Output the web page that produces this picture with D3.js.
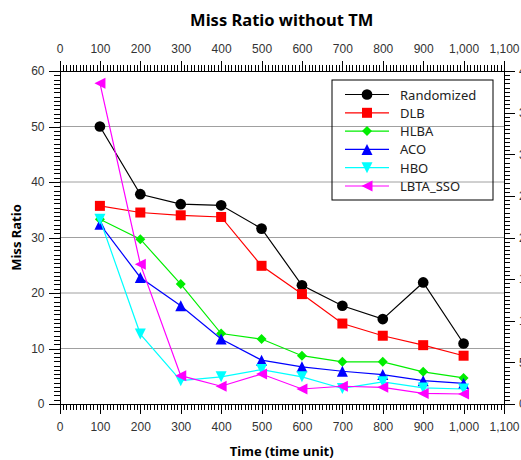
<!DOCTYPE html>
<html>
	<head>
		<title>Miss Ratio without TM</title>
		<script src="https://d3js.org/d3.v7.min.js"></script>

		<style>
			body {
			  margin: 0;
			  font-family: "Noto Sans", "Open Sans", sans-serif;
			  background: #fff;
			}
			.tick text {
				font-size: 12px;
				fill: #333;
			}
			.domain, .tick line {
				stroke: #000;
			}
		</style>
	</head>

	<body>

		<svg id="chart" width="521" height="460"></svg>

        <script type="text/javascript">
			var times = [100, 200, 300, 400, 500, 600, 700, 800, 900, 1000];
			var seriesNames = ['Randomized', 'DLB', 'HLBA', 'ACO', 'HBO', 'LBTA_SSO'];
			var randomized = [50.0, 37.8, 36.0, 35.8, 31.6, 21.4, 17.7, 15.3, 21.9, 10.9];
			var dlb = [35.7, 34.5, 34.0, 33.7, 24.9, 19.8, 14.5, 12.3, 10.6, 8.7];
			var hlba = [33.3, 29.7, 21.6, 12.7, 11.7, 8.7, 7.6, 7.6, 5.8, 4.7];
			var aco = [32.4, 22.8, 17.7, 11.7, 7.9, 6.7, 5.9, 5.3, 4.2, 3.7];
			var hbo = [33.3, 12.6, 4.2, 4.9, 6.2, 4.9, 2.8, 4.0, 2.9, 2.7];
			var lbta = [57.8, 25.2, 5.1, 3.2, 5.4, 2.7, 3.2, 3.0, 1.9, 1.8];
			var xTicks = [0, 100, 200, 300, 400, 500, 600, 700, 800, 900, 1000, 1100];
			var yTicks = [0, 10, 20, 30, 40, 50, 60];
			var rightTicks = [0, 5, 10, 15, 20, 25, 30, 35, 40];

			var colors = ['#000000', '#ff0000', '#00ee00', '#0000ff', '#00ffff', '#ff00ff'];
			var symbols = ['circle', 'square', 'diamond', 'up', 'down', 'left'];
			var allValues = [randomized, dlb, hlba, aco, hbo, lbta];

			var series = seriesNames.map(function(name, i) {
				return {
					name: name,
					color: colors[i],
					symbol: symbols[i],
					points: times.map(function(t, j) { return {t: t, v: allValues[i][j]}; })
				};
			});

			var plotLeft = 59.5, plotRight = 504, plotTop = 71, plotBottom = 404;

			var x = d3.scaleLinear().domain([0, 1100]).range([plotLeft, plotRight]);
			var y = d3.scaleLinear().domain([0, 60]).range([plotBottom, plotTop]);
			var yRight = d3.scaleLinear().domain([0, 40]).range([plotBottom, plotTop]);

			var svg = d3.select('#chart');

			// gridlines
			svg.append('g')
				.selectAll('line')
				.data(yTicks.slice(1, -1))
				.enter().append('line')
				.attr('x1', plotLeft)
				.attr('x2', plotRight)
				.attr('y1', function(d) { return y(d); })
				.attr('y2', function(d) { return y(d); })
				.attr('stroke', '#a0a0a0')
				.attr('stroke-width', 1);

			function range(a, b, step) {
				return d3.range(Math.round((b - a) / step) + 1).map(function(i) { return a + i * step; });
			}

			// minor ticks
			function minorAxis(axis, scale, values) {
				return axis(scale).tickValues(values).tickSize(6).tickFormat('');
			}
			svg.append('g').attr('transform', 'translate(0,' + plotBottom + ')')
				.call(minorAxis(d3.axisBottom, x, range(0, 1100, 100 / 12)));
			svg.append('g').attr('transform', 'translate(0,' + plotTop + ')')
				.call(minorAxis(d3.axisTop, x, range(0, 1100, 100 / 12)));
			svg.append('g').attr('transform', 'translate(' + plotLeft + ',0)')
				.call(minorAxis(d3.axisLeft, y, range(0, 60, 10 / 13)));
			svg.append('g').attr('transform', 'translate(' + plotRight + ',0)')
				.call(minorAxis(d3.axisRight, yRight, range(0, 40, 0.5)));

			// major axes
			svg.append('g').attr('transform', 'translate(0,' + plotBottom + ')')
				.call(d3.axisBottom(x).tickValues(xTicks).tickSize(10).tickPadding(8).tickFormat(d3.format(',')));
			svg.append('g').attr('transform', 'translate(0,' + plotTop + ')')
				.call(d3.axisTop(x).tickValues(xTicks).tickSize(10).tickPadding(8).tickFormat(d3.format(',')));
			svg.append('g').attr('transform', 'translate(' + plotLeft + ',0)')
				.call(d3.axisLeft(y).tickValues(yTicks).tickSize(11).tickPadding(4));
			svg.append('g').attr('transform', 'translate(' + plotRight + ',0)')
				.call(d3.axisRight(yRight).tickValues(rightTicks).tickSize(11).tickPadding(4));

			svg.selectAll('.tick line').attr('shape-rendering', 'crispEdges');
			svg.selectAll('.domain').attr('shape-rendering', 'crispEdges');

			// titles
			svg.append('text')
				.attr('x', (plotLeft + plotRight) / 2)
				.attr('y', 26)
				.attr('text-anchor', 'middle')
				.style('font-size', '16.5px')
				.style('font-weight', 'bold')
				.text('Miss Ratio without TM');

			svg.append('text')
				.attr('x', (plotLeft + plotRight) / 2)
				.attr('y', 456)
				.attr('text-anchor', 'middle')
				.style('font-size', '13px')
				.style('font-weight', 'bold')
				.text('Time (time unit)');

			svg.append('text')
				.attr('transform', 'translate(21,' + ((plotTop + plotBottom) / 2) + ') rotate(-90)')
				.attr('text-anchor', 'middle')
				.style('font-size', '13px')
				.style('font-weight', 'bold')
				.text('Miss Ratio');

			function markerPath(symbol, s) {
				if (symbol === 'circle') return d3.symbol(d3.symbolCircle, 90)();
				if (symbol === 'square') return 'M' + (-s) + ',' + (-s) + 'H' + s + 'V' + s + 'H' + (-s) + 'Z';
				if (symbol === 'diamond') return 'M0,' + (-s) + 'L' + s + ',0L0,' + s + 'L' + (-s) + ',0Z';
				if (symbol === 'up') return 'M0,' + (-s) + 'L' + s + ',' + s + 'L' + (-s) + ',' + s + 'Z';
				if (symbol === 'down') return 'M0,' + s + 'L' + s + ',' + (-s) + 'L' + (-s) + ',' + (-s) + 'Z';
				return 'M' + (-s) + ',0L' + s + ',' + (-s) + 'L' + s + ',' + s + 'Z';
			}
			var markerSize = {circle: 5, square: 5, diamond: 5, up: 5.5, down: 5.5, left: 5.5};

			var line = d3.line()
				.x(function(d) { return x(d.t); })
				.y(function(d) { return y(d.v); });

			var groups = svg.selectAll('g.series')
				.data(series)
				.enter().append('g')
				.attr('class', 'series');

			groups.append('path')
				.attr('d', function(d) { return line(d.points); })
				.attr('fill', 'none')
				.attr('stroke', function(d) { return d.color; })
				.attr('stroke-width', 1.2);

			groups.each(function(s) {
				d3.select(this).selectAll('path.marker')
					.data(s.points)
					.enter().append('path')
					.attr('class', 'marker')
					.attr('transform', function(d) { return 'translate(' + x(d.t) + ',' + y(d.v) + ')'; })
					.attr('d', markerPath(s.symbol, markerSize[s.symbol]))
					.attr('fill', s.color);
			});

			// legend
			var legend = svg.append('g').attr('transform', 'translate(332,80)');
			legend.append('rect')
				.attr('x', 0)
				.attr('y', 0)
				.attr('width', 161)
				.attr('height', 120)
				.attr('fill', 'none')
				.attr('stroke', '#000')
				.attr('stroke-width', 1);

			var items = legend.selectAll('g.item')
				.data(series)
				.enter().append('g')
				.attr('class', 'item')
				.attr('transform', function(d, i) { return 'translate(0,' + (14.5 + i * 18.3) + ')'; });

			items.append('line')
				.attr('x1', 13)
				.attr('x2', 57)
				.attr('stroke', function(d) { return d.color; })
				.attr('stroke-width', 1.2);
			items.append('path')
				.attr('transform', 'translate(35,0)')
				.attr('d', function(d) { return markerPath(d.symbol, markerSize[d.symbol]); })
				.attr('fill', function(d) { return d.color; });
			items.append('text')
				.attr('x', 68)
				.attr('y', 5)
				.style('font-size', '13px')
				.attr('fill', '#222')
				.text(function(d) { return d.name; });
        </script>

	</body>
</html>
